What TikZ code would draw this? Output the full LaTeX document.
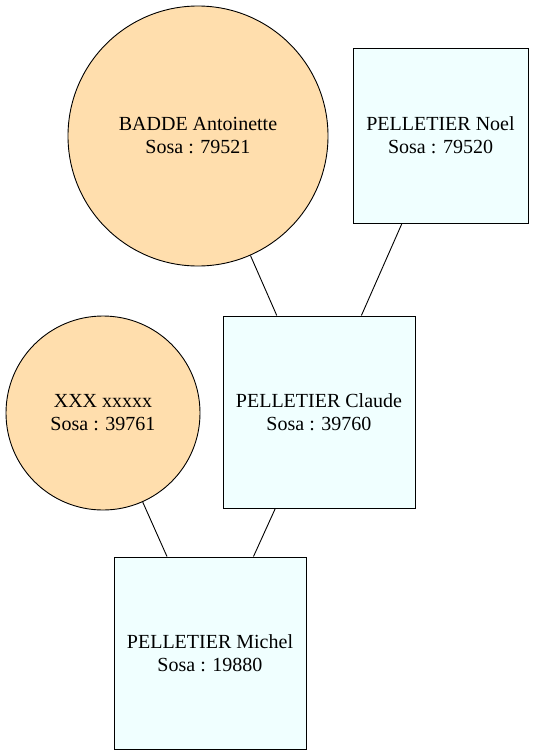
\documentclass[tikz,border=0pt]{standalone}
\usepackage{fontspec}
\setmainfont{Liberation Serif}
\usepackage{xcolor}
\usetikzlibrary{positioning}
\definecolor{womancol}{HTML}{FFDEAD}
\definecolor{mancol}{HTML}{F0FFFF}

\begin{document}
\begin{tikzpicture}[-,x=1pt,y=-1pt,line width=0.9pt,
  woman node/.style={circle,draw,fill=womancol,inner sep=0pt,align=center,font=\fontsize{20}{23}\selectfont},
  man node/.style={rectangle,draw,fill=mancol,inner sep=0pt,align=center,font=\fontsize{20}{23}\selectfont}]

\useasboundingbox (0,0) rectangle (534,755);

\node[woman node,minimum size=260pt] (B) at (198,136) {BADDE Antoinette\\Sosa : 79521};
\node[man node,minimum size=175pt] (N) at (440.5,135.5) {PELLETIER Noel\\Sosa : 79520};
\node[woman node,minimum size=194pt] (X) at (103,413) {XXX xxxxx\\Sosa : 39761};
\node[man node,minimum size=192pt] (C) at (319,412) {PELLETIER Claude\\Sosa : 39760};
\node[man node,minimum size=192pt] (M) at (210,653) {PELLETIER Michel\\Sosa : 19880};

\path
    (B) edge (C)
    (N) edge (C)
    (X) edge (M)
    (C) edge (M);
\end{tikzpicture}
\end{document}
